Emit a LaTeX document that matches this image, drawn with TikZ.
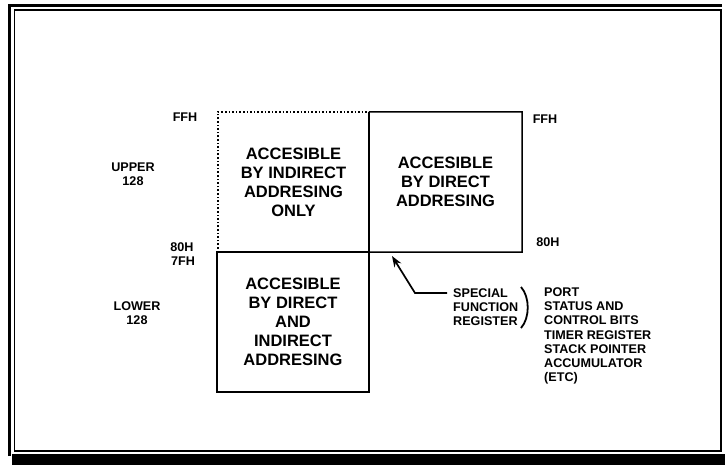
\documentclass[tikz,border=0pt]{standalone}
\usepackage{fontspec}
\setmainfont{Liberation Sans}
\usetikzlibrary{arrows.meta}
\begin{document}
\begin{tikzpicture}[x=1pt,y=-1pt,
  small/.style={font=\fontsize{12.6}{14.2}\selectfont\bfseries, inner sep=0pt},
  cell/.style={font=\fontsize{16.5}{19}\selectfont\bfseries, align=center, inner sep=0pt},
  edge/.style={line width=1.5pt},
  arr/.style={line width=1.7pt, -{Stealth[length=11pt,width=8pt]}}]
\useasboundingbox (0,0) rectangle (725,466);
% frame
\draw[line width=3pt] (9,456) -- (9,5) -- (722,5);
\draw[line width=1.3pt] (14.5,451) -- (14.5,10) -- (721,10) -- (721,451) -- cycle;
\fill (12,454) rectangle (725,465);
% memory blocks
\node[cell, minimum width=151pt, minimum height=140pt] (ul) at (293.5,182)
  {ACCESIBLE\\BY INDIRECT\\ADDRESING\\ONLY};
\node[cell, minimum width=153pt, minimum height=140pt] (ur) at (445.5,182)
  {ACCESIBLE\\BY DIRECT\\ADDRESING};
\node[cell, minimum width=152pt, minimum height=140pt] (lo) at (293,322)
  {ACCESIBLE\\BY DIRECT\\AND\\INDIRECT\\ADDRESING};
\draw[line width=1.6pt, dotted] (ul.south west) -- (ul.north west) -- (ul.north east);
\draw[edge] (ul.north east) -- (ul.south east);
\draw[edge] (ur.north west) -- (ur.north east) -- (ur.south east) -- (lo.north west);
\draw[edge] (lo.north west) rectangle (lo.south east);
% address labels
\node[small] (ffhl) at (185,117) {FFH};
\node[small] (ffhr) at (545,119) {FFH};
\node[small] (h80l) at (182,247) {80H};
\node[small] (h7f) at (183,261) {7FH};
\node[small] (h80r) at (548,242) {80H};
\node[small, align=center] (upper) at (133,174) {UPPER\\128};
\node[small, align=center] (lower) at (137,313) {LOWER\\128};
% special function register
\node[small, align=left, anchor=north west] (sfr) at (453,288.5)
  {SPECIAL\\FUNCTION\\REGISTER};
\node[small, align=left, anchor=north west] (list) at (544,287.4)
  {PORT\\STATUS AND\\CONTROL BITS\\TIMER REGISTER\\STACK POINTER\\ACCUMULATOR\\(ETC)};
\coordinate (tail) at (447,293);
\coordinate (elbow) at (415,293);
\coordinate (tip) at (392,256);
\draw[arr] (tail) -- (elbow) -- (tip);
\draw[line width=1.8pt] (521,287) .. controls (530,297) and (530,318) .. (521,328);
\end{tikzpicture}
\end{document}
